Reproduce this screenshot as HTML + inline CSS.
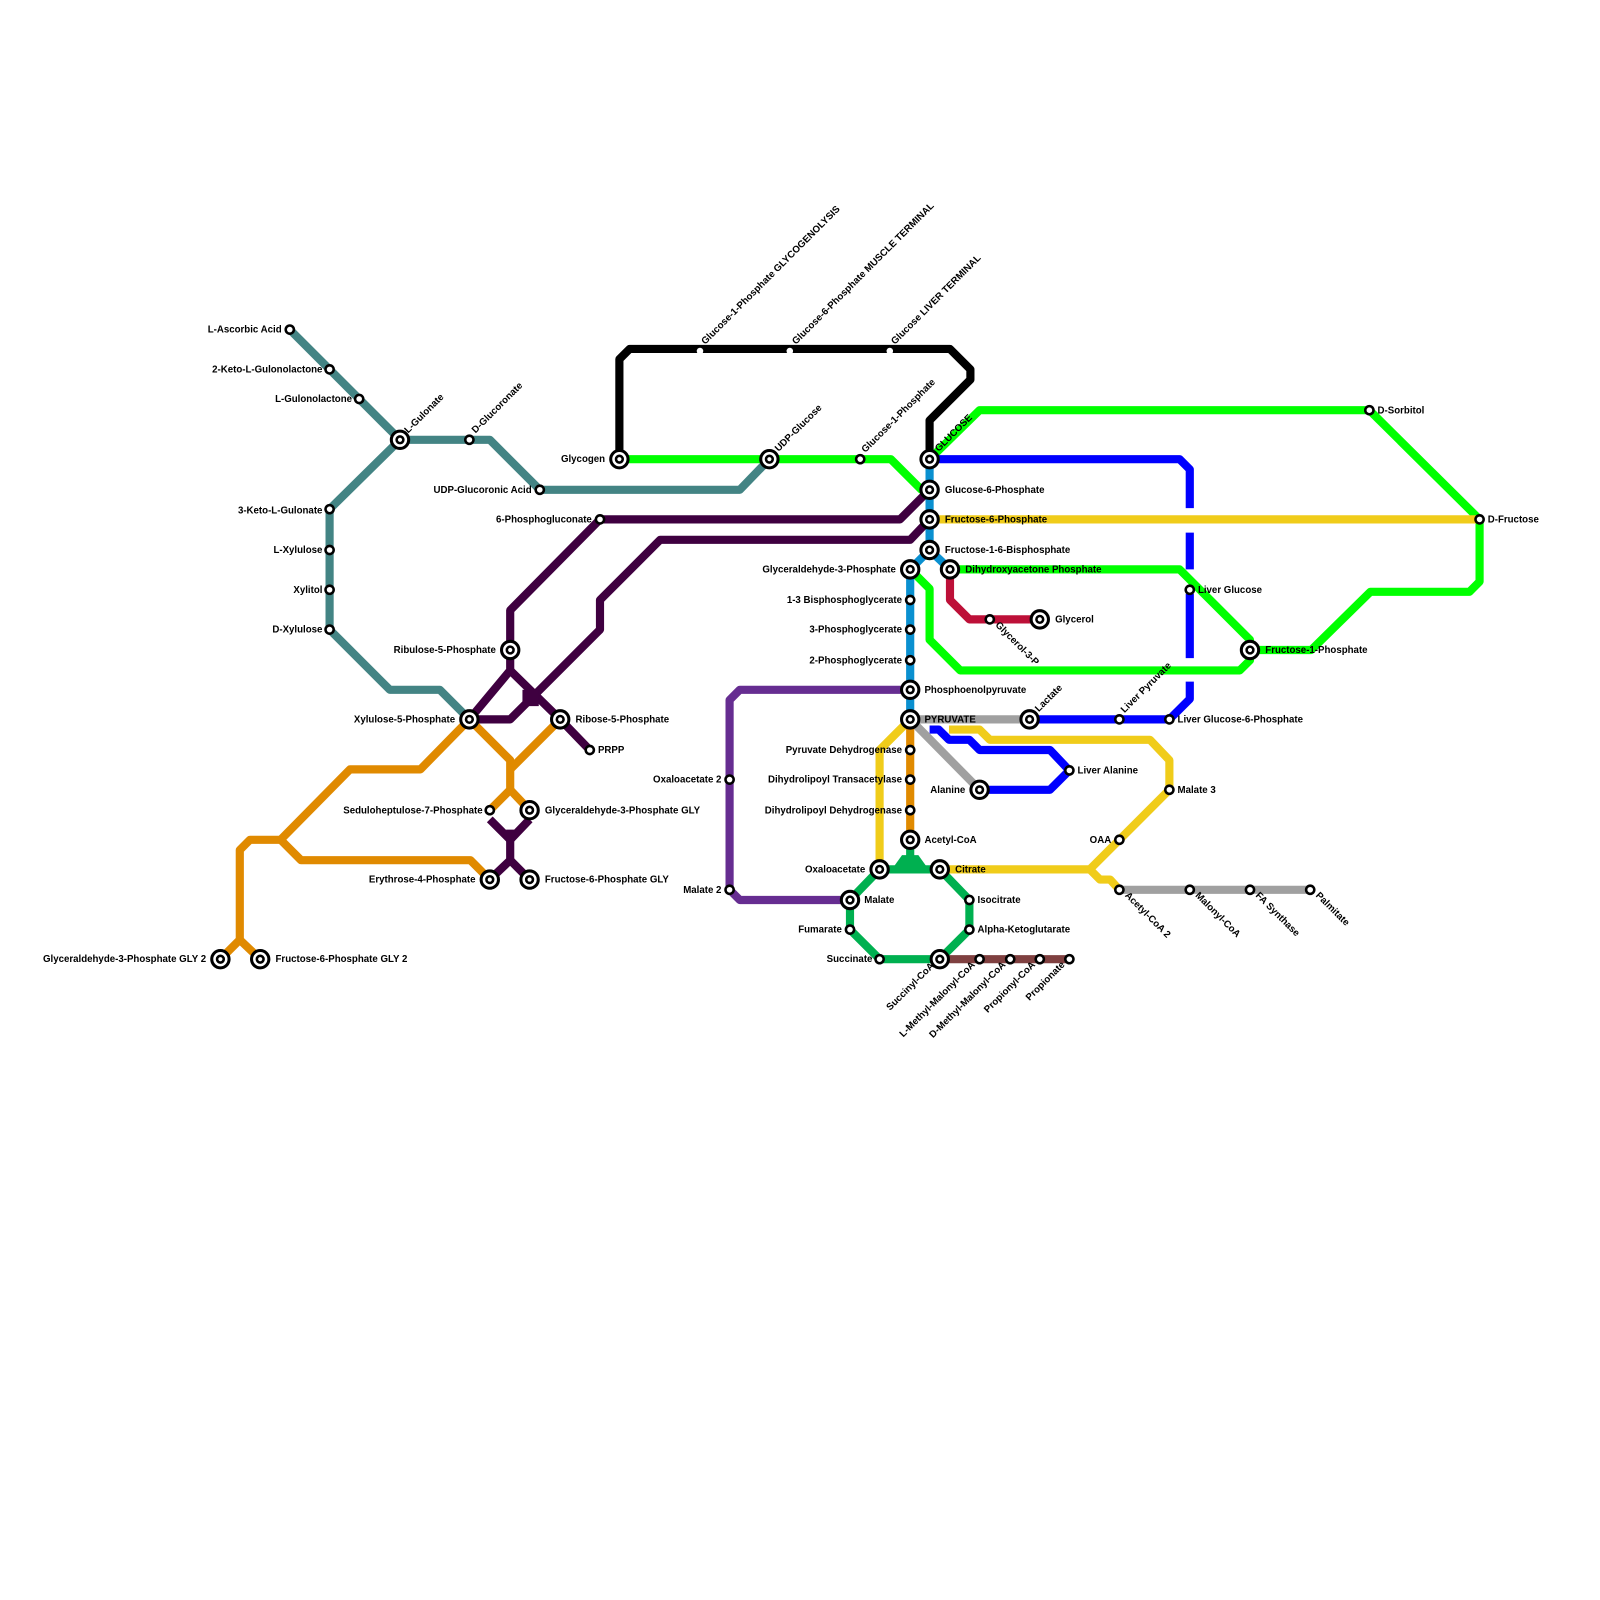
<!DOCTYPE html>
<html><head><meta charset="utf-8"><style>
html,body{margin:0;padding:0;background:#fff;}
svg{display:block;}
text{font-family:"Liberation Sans",Arial,sans-serif;font-weight:bold;font-size:9.5px;fill:#000;}
.l{fill:none;stroke-width:8;stroke-linejoin:round;stroke-linecap:butt;}
</style></head><body>
<svg width="1600" height="1600" viewBox="0 0 1600 1600" xmlns="http://www.w3.org/2000/svg">
<g transform="scale(1.0204)">
<g class="lines">
<polyline class="l" stroke="#000" points="607,450 607,352 617,342 931,342 951,362 951,372 911,412 911,450"/>
<polyline class="l" stroke="#438484" points="284,323 392,431 480,431 529,480 725,480 754,450"/>
<polyline class="l" stroke="#438484" points="392,431 323,499 323,617 382,676 431,676 460,705"/>
<polyline class="l" stroke="#00ff00" points="607,450 873,450 903,480 911,480"/>
<polyline class="l" stroke="#00ff00" points="911,450 960,402 1342,402 1450,509 1450,570 1440,580 1343,580 1285,637 1225,637"/>
<polyline class="l" stroke="#00ff00" points="892,558 911,577 911,627 941,657 1215,657 1225,647 1225,637"/>
<polyline class="l" stroke="#00ff00" points="931,558 1156,558 1225,627 1225,637"/>
<polyline class="l" stroke="#0000ff" stroke-linecap="round" points="911,450 1156,450 1166,460 1166,498"/>
<line class="l" stroke="#0000ff" stroke-linecap="round" x1="1166" y1="522" x2="1166" y2="558"/>
<line class="l" stroke="#0000ff" stroke-linecap="round" x1="1166" y1="582" x2="1166" y2="645"/>
<polyline class="l" stroke="#0000ff" stroke-linecap="round" points="1166,668 1166,685 1146,705 1009,705"/>
<polyline class="l" stroke="#0000ff" points="960,774 1029,774 1048,755 1029,735 960,735 950,725 930,725 920,715 911,715"/>
<polyline class="l" stroke="#a0a0a0" points="892,705 1009,705"/>
<polyline class="l" stroke="#a0a0a0" points="892,705 960,774"/>
<polyline class="l" stroke="#a0a0a0" points="1097,872 1284,872"/>
<polyline class="l" stroke="#f0cc1a" points="911,509 1450,509"/>
<polyline class="l" stroke="#f0cc1a" points="892,705 862,735 862,852"/>
<polyline class="l" stroke="#f0cc1a" points="921,852 1068,852 1146,774 1146,745 1127,725 970,725 960,715 930,715"/>
<polyline class="l" stroke="#f0cc1a" points="1068,852 1078,862 1088,862 1097,872"/>
<polyline class="l" stroke="#0a90d0" points="911,450 911,539 892,558 892,705"/>
<polyline class="l" stroke="#0a90d0" points="911,539 931,558"/>
<polyline class="l" stroke="#e08a00" points="892,705 892,823"/>
<polyline class="l" stroke="#e08a00" points="460,705 412,754 343,754 275,823 245,823 235,833 235,921 216,940"/>
<polyline class="l" stroke="#e08a00" points="235,921 255,940"/>
<polyline class="l" stroke="#e08a00" points="275,823 295,843 461,843 480,862"/>
<polyline class="l" stroke="#e08a00" points="460,705 500,745 500,774 480,794"/>
<polyline class="l" stroke="#e08a00" points="500,774 519,794"/>
<polyline class="l" stroke="#e08a00" points="500,754 549,705"/>
<polyline class="l" stroke="#3f0040" points="911,480 882,509 588,509 500,598 500,657 460,705"/>
<polyline class="l" stroke="#3f0040" points="500,657 549,705 578,735"/>
<polyline class="l" stroke="#3f0040" points="460,705 500,705 519,686 588,617 588,588 647,529 892,529 911,509"/>
<polyline class="l" stroke="#3f0040" points="480,803 500,823 519,803"/>
<polyline class="l" stroke="#3f0040" points="500,813 500,843 480,862"/>
<polyline class="l" stroke="#3f0040" points="500,843 519,862"/>
<rect x="512" y="676" width="16" height="16" fill="#3f0040"/>
<polyline class="l" stroke="#662d91" points="892,676 725,676 715,686 715,872 725,882 833,882"/>
<polyline class="l" stroke="#00b050" points="892,823 892,843"/>
<polygon fill="#00b050" points="884,838 900,838 910,852 874,852"/>
<polyline class="l" stroke="#00b050" points="862,852 921,852"/>
<polyline class="l" stroke="#00b050" points="862,852 833,882 833,911 862,940 921,940 950,911 950,882 921,852"/>
<polyline class="l" stroke="#bd1038" points="931,558 931,588 950,607 1019,607"/>
<polyline class="l" stroke="#7f4040" points="921,940 1048,940"/>
</g>
<g fill="#fff" stroke="#000">
<g stroke-width="3">
<circle cx="607" cy="450" r="8.5"/><circle cx="754" cy="450" r="8.5"/><circle cx="911" cy="450" r="8.5"/>
<circle cx="911" cy="480" r="8.5"/><circle cx="911" cy="509" r="8.5"/><circle cx="911" cy="539" r="8.5"/>
<circle cx="892" cy="558" r="8.5"/><circle cx="931" cy="558" r="8.5"/><circle cx="1019" cy="607" r="8.5"/>
<circle cx="1225" cy="637" r="8.5"/><circle cx="892" cy="676" r="8.5"/><circle cx="892" cy="705" r="8.5"/>
<circle cx="1009" cy="705" r="8.5"/><circle cx="960" cy="774" r="8.5"/><circle cx="892" cy="823" r="8.5"/>
<circle cx="862" cy="852" r="8.5"/><circle cx="921" cy="852" r="8.5"/><circle cx="833" cy="882" r="8.5"/>
<circle cx="921" cy="940" r="8.5"/><circle cx="392" cy="431" r="8.5"/><circle cx="500" cy="637" r="8.5"/>
<circle cx="460" cy="705" r="8.5"/><circle cx="549" cy="705" r="8.5"/><circle cx="519" cy="794" r="8.5"/>
<circle cx="480" cy="862" r="8.5"/><circle cx="519" cy="862" r="8.5"/><circle cx="216" cy="940" r="8.5"/>
<circle cx="255" cy="940" r="8.5"/>
</g>
<g stroke-width="2.5">
<circle cx="607" cy="450" r="3.3"/><circle cx="754" cy="450" r="3.3"/><circle cx="911" cy="450" r="3.3"/>
<circle cx="911" cy="480" r="3.3"/><circle cx="911" cy="509" r="3.3"/><circle cx="911" cy="539" r="3.3"/>
<circle cx="892" cy="558" r="3.3"/><circle cx="931" cy="558" r="3.3"/><circle cx="1019" cy="607" r="3.3"/>
<circle cx="1225" cy="637" r="3.3"/><circle cx="892" cy="676" r="3.3"/><circle cx="892" cy="705" r="3.3"/>
<circle cx="1009" cy="705" r="3.3"/><circle cx="960" cy="774" r="3.3"/><circle cx="892" cy="823" r="3.3"/>
<circle cx="862" cy="852" r="3.3"/><circle cx="921" cy="852" r="3.3"/><circle cx="833" cy="882" r="3.3"/>
<circle cx="921" cy="940" r="3.3"/><circle cx="392" cy="431" r="3.3"/><circle cx="500" cy="637" r="3.3"/>
<circle cx="460" cy="705" r="3.3"/><circle cx="549" cy="705" r="3.3"/><circle cx="519" cy="794" r="3.3"/>
<circle cx="480" cy="862" r="3.3"/><circle cx="519" cy="862" r="3.3"/><circle cx="216" cy="940" r="3.3"/>
<circle cx="255" cy="940" r="3.3"/>
</g>
<g stroke-width="2.5">
<circle cx="284" cy="323" r="4"/><circle cx="323" cy="362" r="4"/><circle cx="352" cy="391" r="4"/>
<circle cx="460" cy="431" r="4"/><circle cx="529" cy="480" r="4"/><circle cx="323" cy="499" r="4"/>
<circle cx="323" cy="539" r="4"/><circle cx="323" cy="578" r="4"/><circle cx="323" cy="617" r="4"/>
<circle cx="588" cy="509" r="4"/><circle cx="843" cy="450" r="4"/><circle cx="1342" cy="402" r="4"/>
<circle cx="1450" cy="509" r="4"/><circle cx="1166" cy="578" r="4"/><circle cx="970" cy="607" r="4"/>
<circle cx="892" cy="588" r="4"/><circle cx="892" cy="617" r="4"/><circle cx="892" cy="647" r="4"/>
<circle cx="892" cy="735" r="4"/><circle cx="892" cy="764" r="4"/><circle cx="892" cy="794" r="4"/>
<circle cx="1097" cy="705" r="4"/><circle cx="1146" cy="705" r="4"/><circle cx="1048" cy="755" r="4"/>
<circle cx="1146" cy="774" r="4"/><circle cx="1097" cy="823" r="4"/><circle cx="1097" cy="872" r="4"/>
<circle cx="1166" cy="872" r="4"/><circle cx="1225" cy="872" r="4"/><circle cx="1284" cy="872" r="4"/>
<circle cx="950" cy="882" r="4"/><circle cx="950" cy="911" r="4"/><circle cx="833" cy="911" r="4"/>
<circle cx="862" cy="940" r="4"/><circle cx="960" cy="940" r="4"/><circle cx="990" cy="940" r="4"/>
<circle cx="1019" cy="940" r="4"/><circle cx="1048" cy="940" r="4"/><circle cx="715" cy="764" r="4"/>
<circle cx="715" cy="872" r="4"/><circle cx="578" cy="735" r="4"/><circle cx="480" cy="794" r="4"/>
</g>
<g stroke="none"><circle cx="686" cy="344" r="3.2"/><circle cx="774" cy="344" r="3.2"/><circle cx="872" cy="344" r="3.2"/></g>
</g>
<g>
<text x="276" y="326" text-anchor="end">L-Ascorbic Acid</text>
<text x="316" y="365" text-anchor="end">2-Keto-L-Gulonolactone</text>
<text x="345" y="394" text-anchor="end">L-Gulonolactone</text>
<text x="316" y="503" text-anchor="end">3-Keto-L-Gulonate</text>
<text x="316" y="542" text-anchor="end">L-Xylulose</text>
<text x="316" y="581" text-anchor="end">Xylitol</text>
<text x="316" y="620" text-anchor="end">D-Xylulose</text>
<text x="521" y="483" text-anchor="end">UDP-Glucoronic Acid</text>
<text x="580" y="512" text-anchor="end">6-Phosphogluconate</text>
<text x="593" y="453" text-anchor="end">Glycogen</text>
<text x="486" y="640" text-anchor="end">Ribulose-5-Phosphate</text>
<text x="446" y="708" text-anchor="end">Xylulose-5-Phosphate</text>
<text x="564" y="708">Ribose-5-Phosphate</text>
<text x="586" y="738">PRPP</text>
<text x="473" y="797" text-anchor="end">Seduloheptulose-7-Phosphate</text>
<text x="534" y="797">Glyceraldehyde-3-Phosphate GLY</text>
<text x="466" y="865" text-anchor="end">Erythrose-4-Phosphate</text>
<text x="534" y="865">Fructose-6-Phosphate GLY</text>
<text x="202" y="943" text-anchor="end">Glyceraldehyde-3-Phosphate GLY 2</text>
<text x="270" y="943">Fructose-6-Phosphate GLY 2</text>
<text x="707" y="767" text-anchor="end">Oxaloacetate 2</text>
<text x="707" y="875" text-anchor="end">Malate 2</text>
<text x="926" y="483">Glucose-6-Phosphate</text>
<text x="926" y="512">Fructose-6-Phosphate</text>
<text x="926" y="542">Fructose-1-6-Bisphosphate</text>
<text x="946" y="561">Dihydroxyacetone Phosphate</text>
<text x="878" y="561" text-anchor="end">Glyceraldehyde-3-Phosphate</text>
<text x="884" y="591" text-anchor="end">1-3 Bisphosphoglycerate</text>
<text x="884" y="620" text-anchor="end">3-Phosphoglycerate</text>
<text x="884" y="650" text-anchor="end">2-Phosphoglycerate</text>
<text x="906" y="679">Phosphoenolpyruvate</text>
<text x="906" y="708">PYRUVATE</text>
<text x="884" y="738" text-anchor="end">Pyruvate Dehydrogenase</text>
<text x="884" y="767" text-anchor="end">Dihydrolipoyl Transacetylase</text>
<text x="884" y="797" text-anchor="end">Dihydrolipoyl Dehydrogenase</text>
<text x="906" y="826">Acetyl-CoA</text>
<text x="848" y="855" text-anchor="end">Oxaloacetate</text>
<text x="936" y="855">Citrate</text>
<text x="847" y="885">Malate</text>
<text x="825" y="914" text-anchor="end">Fumarate</text>
<text x="855" y="943" text-anchor="end">Succinate</text>
<text x="958" y="885">Isocitrate</text>
<text x="958" y="914">Alpha-Ketoglutarate</text>
<text x="946" y="777" text-anchor="end">Alanine</text>
<text x="1056" y="758">Liver Alanine</text>
<text x="1034" y="610">Glycerol</text>
<text x="1240" y="640">Fructose-1-Phosphate</text>
<text x="1174" y="581">Liver Glucose</text>
<text x="1154" y="708">Liver Glucose-6-Phosphate</text>
<text x="1154" y="777">Malate 3</text>
<text x="1089" y="826" text-anchor="end">OAA</text>
<text x="1350" y="405">D-Sorbitol</text>
<text x="1458" y="512">D-Fructose</text>
<text transform="translate(400,425) rotate(-45)">L-Gulonate</text>
<text transform="translate(466,425) rotate(-45)">D-Glucoronate</text>
<text transform="translate(763,443) rotate(-45)">UDP-Glucose</text>
<text transform="translate(848,444) rotate(-45)">Glucose-1-Phosphate</text>
<text transform="translate(920,443) rotate(-45)">GLUCOSE</text>
<text transform="translate(691,338) rotate(-45)">Glucose-1-Phosphate GLYCOGENOLYSIS</text>
<text transform="translate(780,338) rotate(-45)">Glucose-6-Phosphate MUSCLE TERMINAL</text>
<text transform="translate(877,338) rotate(-45)">Glucose LIVER TERMINAL</text>
<text transform="translate(1018,698) rotate(-45)">Lactate</text>
<text transform="translate(1102,699) rotate(-45)">Liver Pyruvate</text>
<text transform="translate(975,613) rotate(45)">Glycerol-3-P</text>
<text transform="translate(1102,878) rotate(45)">Acetyl-CoA 2</text>
<text transform="translate(1171,878) rotate(45)">Malonyl-CoA</text>
<text transform="translate(1230,878) rotate(45)">FA Synthase</text>
<text transform="translate(1289,878) rotate(45)">Palmitate</text>
<text transform="translate(916,947) rotate(-45)" text-anchor="end">Succinyl-CoA</text>
<text transform="translate(956,946) rotate(-45)" text-anchor="end">L-Methyl-Malonyl-CoA</text>
<text transform="translate(986,946) rotate(-45)" text-anchor="end">D-Methyl-Malonyl-CoA</text>
<text transform="translate(1015,946) rotate(-45)" text-anchor="end">Propionyl-CoA</text>
<text transform="translate(1044,946) rotate(-45)" text-anchor="end">Propionate</text>
</g>
</g>
</svg>
</body></html>
